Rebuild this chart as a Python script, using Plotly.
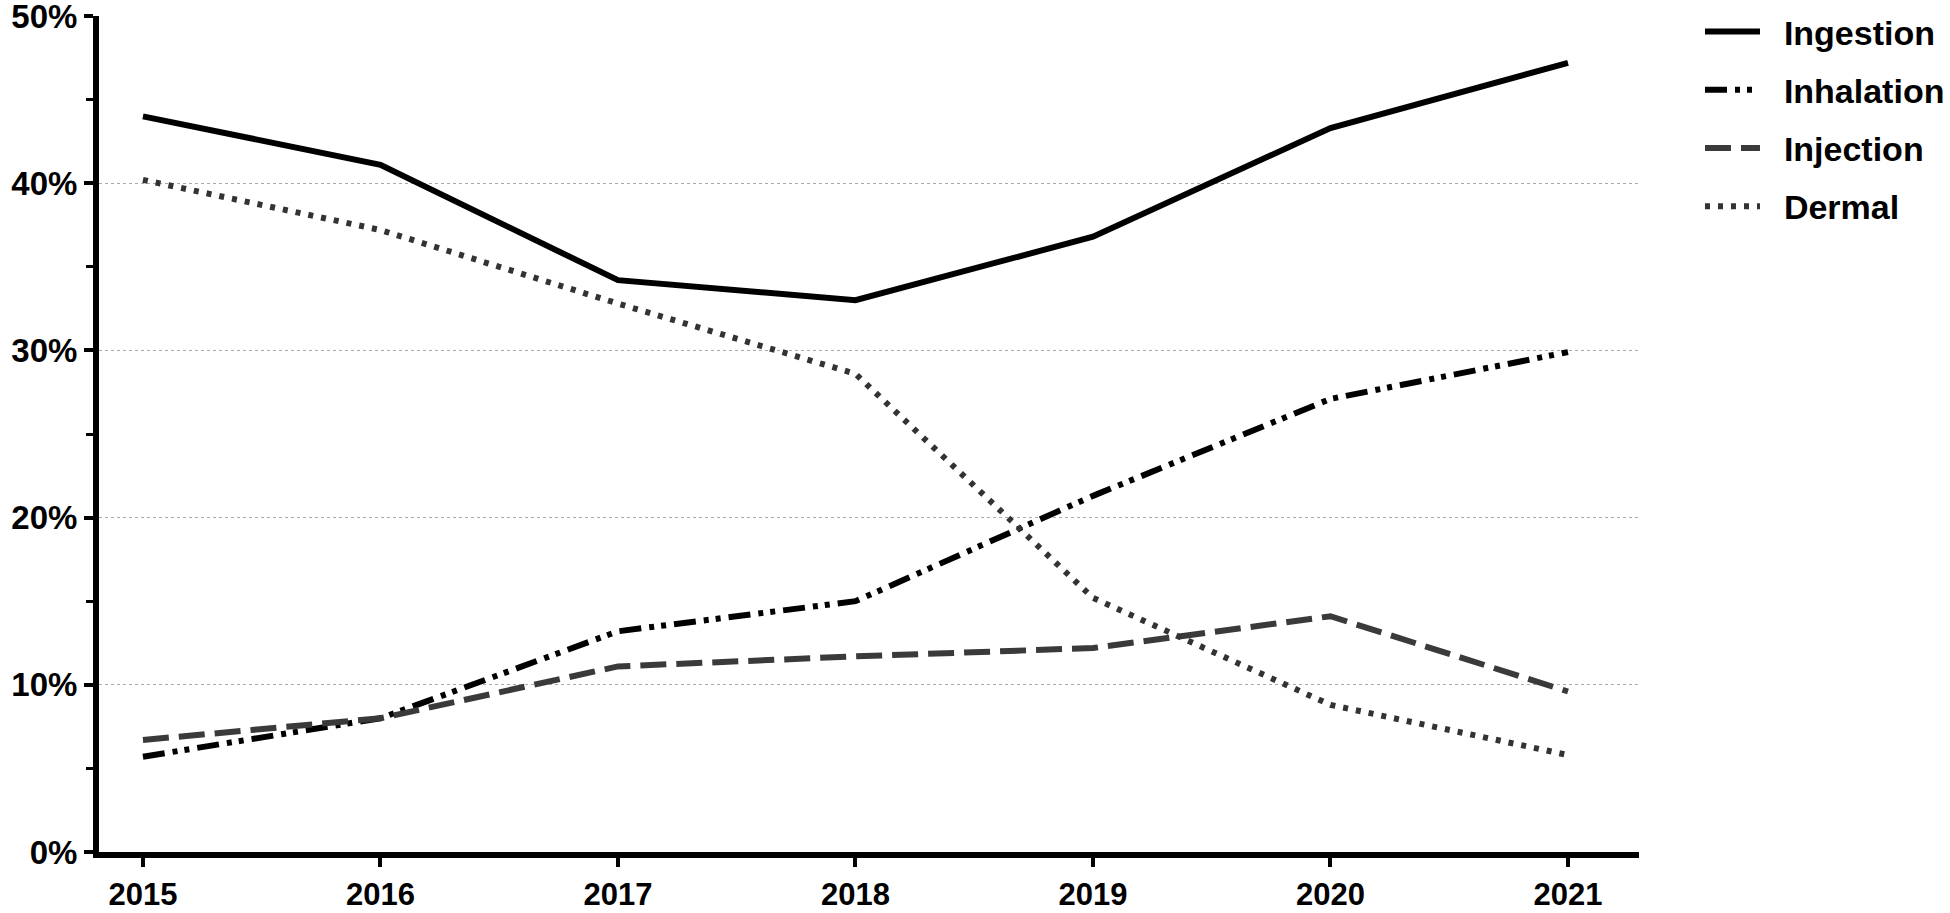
import plotly.graph_objects as go

years = [2015, 2016, 2017, 2018, 2019, 2020, 2021]
ingestion = [44.0, 41.1, 34.2, 33.0, 36.8, 43.3, 47.2]
inhalation = [5.7, 8.0, 13.2, 15.0, 21.3, 27.1, 29.9]
injection = [6.7, 8.0, 11.1, 11.7, 12.2, 14.1, 9.6]
dermal = [40.2, 37.2, 32.8, 28.6, 15.2, 8.8, 5.8]
y_ticks = [0, 10, 20, 30, 40, 50]
y_labels = [f"{v}%" for v in y_ticks]

series = [
    ("Ingestion", ingestion, dict(color="#000000", width=6, dash="solid")),
    ("Inhalation", inhalation, dict(color="#000000", width=6, dash="22px,8px,5px,7px,5px,8px")),
    ("Injection", injection, dict(color="#3a3a3a", width=6, dash="26px,10px")),
    ("Dermal", dermal, dict(color="#333333", width=6, dash="5px,8px")),
]

fig = go.Figure()
for i, (name, vals, line) in enumerate(series):
    fig.add_trace(go.Scatter(
        x=years, y=vals, name="\u00a0\u00a0" + name, mode="lines", line=line,
        legendgroup=f"g{i}",
    ))

font_family = "Liberation Sans, Arial, sans-serif"

fig.update_layout(
    width=1950, height=913,
    margin=dict(l=99, r=311, t=16, b=61, autoexpand=False),
    paper_bgcolor="white", plot_bgcolor="white",
    font=dict(family=font_family, color="black"),
    showlegend=True,
    legend=dict(
        x=1.0396, xanchor="left", y=1.0156, yanchor="top",
        font=dict(family=font_family, size=34, weight="bold", color="black"),
        itemwidth=55, tracegroupgap=11, traceorder="grouped",
        bgcolor="rgba(0,0,0,0)",
    ),
    xaxis=dict(
        range=[2014.815, 2021.299],
        tickmode="array", tickvals=years, ticktext=[str(y) for y in years],
        showgrid=False, zeroline=False,
        showline=True, linecolor="black", linewidth=6,
        ticks="outside", ticklen=9, tickwidth=4, tickcolor="black",
        ticklabelstandoff=1, ticklabeloverflow="allow",
        tickfont=dict(family=font_family, size=31, weight="bold", color="black"),
    ),
    yaxis=dict(
        range=[0, 50],
        tickmode="array", tickvals=y_ticks, ticktext=y_labels,
        showgrid=True, gridcolor="#aaaaaa", gridwidth=1, griddash="dot",
        zeroline=False,
        showline=True, linecolor="black", linewidth=6,
        ticks="outside", ticklen=9, tickwidth=4, tickcolor="black",
        ticklabeloverflow="allow",
        minor=dict(dtick=5, tick0=0, ticks="outside", ticklen=7, tickwidth=3,
                   tickcolor="black", showgrid=False),
        tickfont=dict(family=font_family, size=33, weight="bold", color="black"),
    ),
)

# Remove the default 8px page margin so the 1950x913 figure fills the window exactly.
fig.write_html(
    "out.html",
    config={"displayModeBar": False},
    post_script="document.body.style.margin='0px';document.body.style.overflow='hidden';",
)
